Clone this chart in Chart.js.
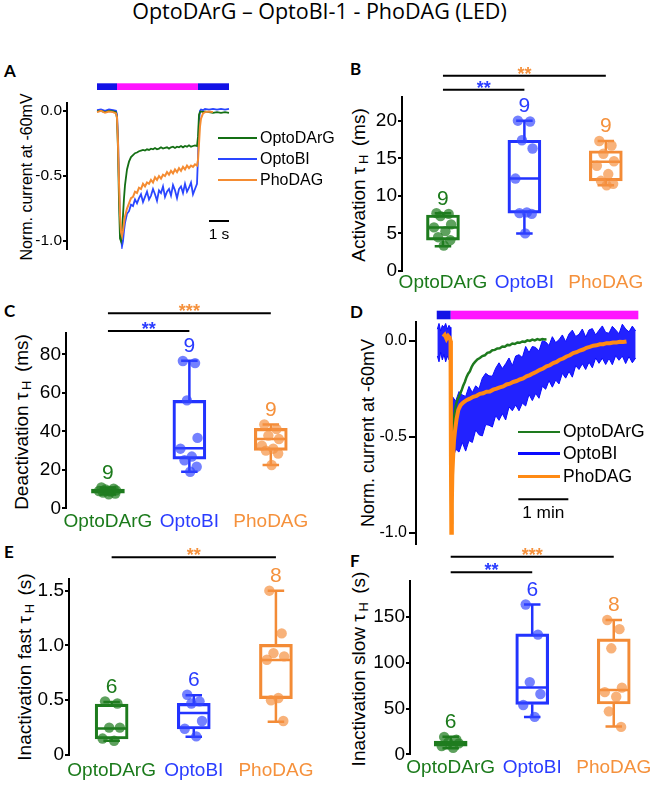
<!DOCTYPE html>
<html>
<head>
<meta charset="utf-8">
<title>OptoDArG – OptoBI-1 - PhoDAG (LED)</title>
<script src="https://cdn.jsdelivr.net/npm/chart.js@4.4.1/dist/chart.umd.min.js"></script>
<style>
  html, body { margin: 0; padding: 0; background: #fff; }
  #fig { position: relative; width: 655px; height: 786px; overflow: hidden; font-family: "Liberation Sans", Arial, sans-serif; color: #000; }
  #fig canvas { position: absolute; }
  .title { position: absolute; left: 0; width: 639px; top: 0; text-align: center; font: 21.5px "Open Sans", Lato, sans-serif; line-height: 21px; white-space: nowrap; }
  .letter { position: absolute; font: bold 17px Lato, "Open Sans", sans-serif; line-height: 17px; }
  .ytitle { position: absolute; white-space: nowrap; transform: translate(-50%, -50%) rotate(-90deg); line-height: 1; }
  .ytitle sub { font-size: 0.68em; vertical-align: -0.25em; margin: 0 0.25em 0 0.2em; }
  .leg { position: absolute; display: flex; align-items: center; white-space: nowrap; }
  .leg i { display: inline-block; margin-right: 3px; }
</style>
</head>
<body>
<div id="fig">
  <div class="title">OptoDArG – OptoBI-1 - PhoDAG (LED)</div>
  <div class="letter" style="left:4px;top:62px">A</div>
  <div class="letter" style="left:350px;top:60px">B</div>
  <div class="letter" style="left:4px;top:302px">C</div>
  <div class="letter" style="left:350px;top:303px">D</div>
  <div class="letter" style="left:4px;top:543px">E</div>
  <div class="letter" style="left:350px;top:552px">F</div>

  <div class="ytitle" style="left:27px;top:177px;font-size:16px">Norm. current at -60mV</div>
  <div class="ytitle" style="left:360px;top:185px;font-size:19px">Activation τ<sub>H</sub> (ms)</div>
  <div class="ytitle" style="left:23px;top:422px;font-size:19px">Deactivation τ<sub>H</sub> (ms)</div>
  <div class="ytitle" style="left:368px;top:433px;font-size:18px">Norm. current at -60mV</div>
  <div class="ytitle" style="left:26px;top:667px;font-size:19px">Inactivation fast τ<sub>H</sub> (s)</div>
  <div class="ytitle" style="left:360px;top:669px;font-size:19px">Inactivation slow τ<sub>H</sub> (s)</div>
</div>
<script>
// ---------- data ----------
const groups = ["OptoDArG", "OptoBI", "PhoDAG"];

// A: short light pulse, time in s
const tA = [0, 0.2, 0.4, 0.6, 0.8, 0.95, 1.0, 1.05, 1.1, 1.15, 1.2, 1.25, 1.3, 1.35,
  1.4, 1.5, 1.6, 1.7, 1.8, 1.9, 2.0, 2.1, 2.2, 2.3, 2.4, 2.5, 2.6, 2.7, 2.8, 2.9, 3.0, 3.1, 3.2, 3.3, 3.4, 3.5, 3.6, 3.7, 3.8, 3.9,
  4.0, 4.1, 4.2, 4.3, 4.4, 4.5, 4.6, 4.7, 4.8, 4.9, 5.0,
  5.05, 5.1, 5.15, 5.2, 5.3, 5.4, 5.6, 5.8, 6.0, 6.2, 6.4, 6.6];
const greenA = [-0.005, 0, -0.01, 0, -0.005, -0.01, -0.06, -0.3, -0.7, -0.98, -1.0, -0.93, -0.8, -0.67,
  -0.57, -0.45, -0.39, -0.355, -0.34, -0.325, -0.32, -0.31, -0.305, -0.3, -0.305, -0.295, -0.3, -0.29, -0.295, -0.285,
  -0.295, -0.29, -0.28, -0.29, -0.285, -0.28, -0.29, -0.28, -0.275, -0.285, -0.275, -0.28, -0.27, -0.28, -0.27,
  -0.275, -0.265, -0.275, -0.27, -0.265, -0.27,
  -0.2, -0.03, -0.01, -0.005, -0.01, -0.005, -0.01, -0.015, -0.01, -0.015, -0.01, -0.015];
const blueA = [0.005, 0.01, 0, 0.01, 0.005, 0, -0.03, -0.2, -0.55, -0.85, -0.98, -1.04, -1.0, -0.92,
  -0.86, -0.79, -0.77, -0.72, -0.73, -0.68, -0.71, -0.67, -0.64, -0.7, -0.66, -0.62, -0.68, -0.65, -0.6, -0.64,
  -0.69, -0.61, -0.63, -0.58, -0.66, -0.62, -0.6, -0.65, -0.57, -0.61, -0.67, -0.6, -0.58, -0.63, -0.56,
  -0.62, -0.59, -0.55, -0.64, -0.6, -0.56,
  -0.35, -0.08, 0, 0.01, 0.005, 0.015, 0.01, 0.015, 0.01, 0.015, 0.01, 0.015];
const orangeA = [-0.01, 0, -0.015, -0.005, -0.01, -0.02, -0.05, -0.25, -0.55, -0.8, -0.93, -0.96, -0.92, -0.86,
  -0.81, -0.75, -0.71, -0.67, -0.66, -0.62, -0.63, -0.59, -0.6, -0.56, -0.58, -0.55, -0.56, -0.53, -0.55, -0.51,
  -0.53, -0.5, -0.52, -0.49, -0.5, -0.47, -0.49, -0.46, -0.48, -0.45, -0.47, -0.44, -0.46, -0.43, -0.45,
  -0.42, -0.44, -0.42, -0.43, -0.41, -0.42,
  -0.38, -0.25, -0.12, -0.06, -0.02, -0.01, -0.005, -0.01, null, null, null, null];
const yTicksA = [0, -0.5, -1.0];
const lightA = [[0, 1, "blue"], [1, 5.05, "uv"], [5.05, 6.6, "blue"]];
const scaleBarA = [5.6, 1, -0.845];   // start (s), length (s), level

// D: long light exposure, time in s; OptoBI is drawn as its noise band
const tDb = [0, 2, 4, 6, 8, 10, 12, 14, 15.5, 16.2, 17,
  18, 22, 26, 30, 34, 38, 42, 46, 50, 54, 58, 62, 66, 70, 74, 78, 82, 86, 90, 94, 98, 102, 106, 110, 114, 118,
  122, 126, 130, 134, 138, 142, 146, 150, 154, 158, 162, 166, 170, 174, 178, 182, 186, 190, 194, 198, 202,
  206, 210, 214, 218, 222, 226, 230, 234, 238];
const blueUpD = [0.06, 0.09, 0.05, 0.08, 0.07, 0.09, 0.06, 0.08, 0.07, -0.05, -0.3,
  -0.29, -0.315, -0.265, -0.283, -0.29, -0.238, -0.27, -0.235, -0.25, -0.195, -0.17, -0.183, -0.185, -0.143,
  -0.115, -0.145, -0.12, -0.09, -0.13, -0.08, -0.073, -0.088, -0.03, -0.062, -0.03, -0.035, -0.053, 0.0,
  -0.006, -0.025, 0.021, -0.01, 0.005, 0.03, -0.005, 0.035, 0.055, 0.022, 0.033, 0.061, 0.019, 0.056,
  0.063, 0.03, 0.055, 0.077, 0.043, 0.039, 0.075, 0.056, 0.036, 0.086, 0.061, 0.046, 0.076, 0.051];
const blueLoD = [-0.08, -0.11, -0.06, -0.10, -0.07, -0.11, -0.08, -0.10, -0.09, -0.45, -0.8,
  -0.63, -0.565, -0.58, -0.53, -0.575, -0.52, -0.53, -0.465, -0.49, -0.496, -0.437, -0.44, -0.45, -0.39,
  -0.415, -0.38, -0.413, -0.345, -0.365, -0.335, -0.365, -0.325, -0.34, -0.28, -0.312, -0.275, -0.30, -0.237,
  -0.253, -0.208, -0.242, -0.205, -0.225, -0.17, -0.195, -0.16, -0.19, -0.13, -0.15, -0.12, -0.15, -0.112,
  -0.141, -0.09, -0.118, -0.091, -0.124, -0.092, -0.125, -0.078, -0.102, -0.08, -0.119, -0.082, -0.115, -0.09];
const tDg = [14, 15.5, 16.2, 16.8, 17.5, 18.5, 20, 22, 24, 27, 29, 31, 33, 35, 37, 39, 41, 43, 45, 48,
  51, 54, 57, 60, 63, 66, 69, 72, 75, 78, 81, 84, 87, 90, 93, 96, 99, 102, 105, 108, 111, 114, 117, 120, 123, 126, 129, 131];
const greenD = [0.0, 0.0, -0.5, -0.95, -0.7, -0.5, -0.4, -0.34, -0.31, -0.28, -0.26, -0.235, -0.215, -0.19, -0.172,
  -0.16, -0.138, -0.122, -0.112, -0.098, -0.09, -0.08, -0.076, -0.063, -0.06, -0.05, -0.048, -0.04, -0.039, -0.03,
  -0.031, -0.022, -0.024, -0.015, -0.017, -0.009, -0.011, -0.004, -0.006, 0.002, -0.001, 0.006, 0.002, 0.008,
  0.004, 0.009, 0.006, 0.007];
const tDo = [7, 9, 11, 13, 15, 15.8, 16.3, 16.8, 17.4, 18, 19, 20, 21.2, 23, 25.2, 28, 31, 35, 39, 43,
  47, 51, 55, 59, 63, 67, 71, 75, 79, 83, 87, 91, 95, 99, 103, 107, 111, 115, 119, 123, 127, 131, 135, 139,
  143, 147, 151, 155, 159, 163, 167, 171, 175, 179, 183, 187, 191, 195, 199, 203, 207, 211, 215, 219, 223, 227];
const orangeD = [0.02, 0.03, 0.01, 0.025, 0.015, 0.0, -0.6, -1.0, -0.85, -0.7,
  -0.6, -0.52, -0.47, -0.41, -0.36, -0.335, -0.322, -0.31, -0.302, -0.292,
  -0.287, -0.277, -0.274, -0.266, -0.265, -0.255, -0.25, -0.243, -0.238, -0.228,
  -0.224, -0.215, -0.21, -0.202, -0.197, -0.186, -0.179, -0.17, -0.162, -0.152,
  -0.145, -0.134, -0.128, -0.117, -0.111, -0.099, -0.093, -0.082, -0.076, -0.065,
  -0.06, -0.051, -0.046, -0.037, -0.032, -0.026, -0.024, -0.019, -0.018, -0.013,
  -0.013, -0.009, -0.009, -0.006, -0.007, -0.004];
const yTicksD = [0, -0.5, -1.0];
const lightD = [[-0.7, 16.1, "blue"], [16.1, 241.2, "uv"]];
const scaleBarD = [97.2, 60, -0.826];

// box plots: five-number summaries are [lower whisker, q1, median, q3, upper whisker]
const actPts = [[7.7, 7.6, 7.3, 6.2, 5.8, 5.3, 4.5, 4.1, 3.4],
  [20.0, 19.9, 17.4, 16.3, 12.3, 7.8, 7.7, 7.6, 5.0],
  [17.3, 16.7, 15.6, 14.6, 14.0, 12.9, 12.0, 11.6, 11.4]];
const actBox = [[3.3, 4.1, 5.8, 7.45, 7.7], [5.0, 7.7, 12.3, 17.4, 20.0], [11.4, 12.0, 14.55, 16.0, 17.3]];
const actN = [9, 9, 9];
const actTicks = [0, 5, 10, 15, 20];
const actSig = [[0, 2, "**"], [0, 1, "**"]];

const deactPts = [[10.8, 10.2, 9.8, 9.3, 9.0, 8.7, 8.2, 7.7, 7.3],
  [76.6, 75.5, 56.1, 36.6, 31.0, 26.9, 25.0, 21.6, 19.0],
  [43.6, 41.2, 37.8, 36.0, 32.6, 31.0, 30.0, 28.5, 22.5]];
const deactBox = [[7.2, 7.9, 9.0, 10.0, 10.8], [19.0, 25.6, 31.2, 56.1, 76.7], [22.5, 30.1, 36.0, 41.6, 43.6]];
const deactN = [9, 9, 9];
const deactTicks = [0, 20, 40, 60, 80];
const deactSig = [[0, 2, "***"], [0, 1, "**"]];

const fastPts = [[0.49, 0.47, 0.25, 0.25, 0.15, 0.13],
  [0.55, 0.49, 0.47, 0.31, 0.24, 0.17],
  [1.50, 1.11, 0.93, 0.90, 0.87, 0.52, 0.50, 0.31]];
const fastBox = [[0.13, 0.146, 0.243, 0.465, 0.484], [0.167, 0.237, 0.383, 0.472, 0.545], [0.304, 0.514, 0.867, 1.01, 1.5]];
const fastN = [6, 6, 8];
const fastTicks = [0, 0.5, 1.0, 1.5];
const fastSig = [[0, 2, "**"]];

const slowPts = [[19, 16, 13, 12, 9, 7],
  [164, 131, 79, 66, 54, 41],
  [147, 137, 116, 73, 68, 63, 47, 30]];
const slowBox = [[6.6, 8.8, 12.0, 14.6, 19.3], [40.9, 54.7, 73.0, 131.8, 163.9], [30.3, 55.1, 70.4, 126.3, 147.1]];
const slowN = [6, 6, 8];
const slowTicks = [0, 50, 100, 150];
const slowSig = [[0, 2, "***"], [0, 1, "**"]];

// horizontal spread of the dots inside each group (category units)
const jitter = [-0.08, 0.07, -0.03, 0.1, -0.11, 0.03, -0.06, 0.09, 0.01];

// ---------- style ----------
const FONT = '"Liberation Sans", Arial, sans-serif';
const textColors = ["#1b7a1b", "#2a3cff", "#f5913c"];
const boxColors = ["#1d7b1d", "#2233ff", "#f38b36"];
const dotColors = ["rgba(32,125,32,0.72)", "rgba(50,70,255,0.68)", "rgba(245,146,66,0.7)"];
const traceColorsA = ["#146f14", "#2a46ff", "#f58c32"];
const traceColorsD = ["#1e7a1e", "#0a0aff", "#ff8a14"];
const lightColors = { blue: "#1212e6", uv: "#ff14ff" };
const BOX_W = 33;

Chart.defaults.font.family = FONT;
Chart.defaults.color = "#000";
Chart.defaults.animation = false;
Chart.defaults.plugins.legend.display = false;
Chart.defaults.plugins.tooltip.enabled = false;

const fig = document.getElementById("fig");

function addCanvas(left, top, w, h) {
  const c = document.createElement("canvas");
  c.width = w; c.height = h;
  c.style.left = left + "px"; c.style.top = top + "px";
  c.style.width = w + "px"; c.style.height = h + "px";
  fig.appendChild(c);
  return c;
}

function addLegend(x, y0, dy, lineW, fontSize, colors, widths) {
  groups.forEach((g, i) => {
    const d = document.createElement("div");
    d.className = "leg";
    d.style.left = x + "px";
    d.style.top = (y0 + i * dy - 10) + "px";
    d.style.height = "20px";
    d.style.fontSize = fontSize + "px";
    d.innerHTML = `<i style="width:${lineW}px;height:${widths[i]}px;background:${colors[i]}"></i>${g}`;
    fig.appendChild(d);
  });
}

function yAxis(min, max, ticks, width, size, tickLen, pad, fmt) {
  return {
    type: "linear", min, max,
    border: { display: true, color: "#000", width: 2 },
    grid: { drawOnChartArea: false, drawTicks: true, tickLength: tickLen, color: "#000", lineWidth: 2 },
    ticks: { font: { size }, color: "#000", padding: pad, callback: fmt },
    afterBuildTicks: s => { s.ticks = ticks.map(v => ({ value: v })); },
    afterFit: s => { s.width = width; },
  };
}

function traceSet(t, v, color, w, order) {
  return { data: t.map((x, i) => ({ x, y: v[i] })), borderColor: color, borderWidth: w,
    pointRadius: 0, fill: false, tension: 0, order };
}

function traceExtras(o) {
  return {
    id: "traceExtras",
    afterDraw(chart) {
      const { ctx, chartArea, scales: { x, y } } = chart;
      ctx.save();
      o.light.forEach(([t0, t1, kind]) => {
        const x0 = x.getPixelForValue(t0), x1 = x.getPixelForValue(t1);
        ctx.fillStyle = lightColors[kind];
        ctx.fillRect(x0, chartArea.top + o.barTop, x1 - x0, o.barH);
      });
      const [s0, len, lvl] = o.bar;
      const sx0 = x.getPixelForValue(s0), sx1 = x.getPixelForValue(s0 + len), sy = y.getPixelForValue(lvl);
      ctx.strokeStyle = "#000"; ctx.lineWidth = 2;
      ctx.beginPath(); ctx.moveTo(sx0, sy); ctx.lineTo(sx1, sy); ctx.stroke();
      ctx.fillStyle = "#000"; ctx.textAlign = "center";
      ctx.font = `${o.font}px ${FONT}`;
      ctx.fillText(o.label, (sx0 + sx1) / 2, sy + o.gap);
      ctx.restore();
    },
  };
}

function boxExtras(p) {
  return {
    id: "boxExtras",
    beforeDatasetsDraw(chart) {
      const { ctx, scales: { x, y } } = chart;
      ctx.save();
      ctx.lineWidth = 2.5;
      p.box.forEach((b, i) => {
        const cx = x.getPixelForValue(i);
        const [lo, q1, med, q3, hi] = b.map(v => y.getPixelForValue(v));
        const cap = BOX_W / 4, half = BOX_W / 2 - 1;
        ctx.strokeStyle = boxColors[i];
        ctx.beginPath();
        ctx.moveTo(cx, lo); ctx.lineTo(cx, q1);
        ctx.moveTo(cx, q3); ctx.lineTo(cx, hi);
        ctx.moveTo(cx - cap, lo); ctx.lineTo(cx + cap, lo);
        ctx.moveTo(cx - cap, hi); ctx.lineTo(cx + cap, hi);
        ctx.moveTo(cx - half, med); ctx.lineTo(cx + half, med);
        ctx.stroke();
      });
      ctx.restore();
    },
    afterDraw(chart) {
      const { ctx, chartArea, scales: { x, y } } = chart;
      ctx.save();
      ctx.textAlign = "center";
      ctx.font = `21px ${FONT}`;
      p.n.forEach((n, i) => {
        const top = Math.max(p.box[i][4], ...p.pts[i]);
        ctx.fillStyle = textColors[i];
        ctx.fillText(String(n), x.getPixelForValue(i), y.getPixelForValue(top) - 8.5);
      });
      ctx.font = `bold 18px ${FONT}`;
      p.sig.forEach(([a, b, stars], k) => {
        const yy = chartArea.top + p.sigY[k];
        const x0 = x.getPixelForValue(a), x1 = x.getPixelForValue(b);
        ctx.strokeStyle = "#000"; ctx.lineWidth = 2;
        ctx.beginPath(); ctx.moveTo(x0, yy); ctx.lineTo(x1, yy); ctx.stroke();
        ctx.fillStyle = textColors[b];
        ctx.fillText(stars, (x0 + x1) / 2, yy + 4);
      });
      ctx.restore();
    },
  };
}

function boxChart(canvas, p) {
  const datasets = p.pts.map((g, i) => ({
    type: "scatter",
    data: g.map((v, j) => ({ x: i + jitter[j], y: v })),
    pointRadius: 5.2, pointBackgroundColor: dotColors[i], pointBorderWidth: 0, order: 0,
  }));
  datasets.push({
    type: "bar",
    data: p.box.map((b, i) => ({ x: i, y: [b[1], b[3]] })),
    borderColor: boxColors, backgroundColor: "rgba(0,0,0,0)", borderWidth: 2.5,
    borderSkipped: false, barThickness: BOX_W, grouped: false, order: 1,
  });
  return new Chart(canvas, {
    type: "bar",
    data: { datasets },
    options: {
      responsive: false,
      layout: { padding: { left: 0, top: p.top, right: p.right, bottom: 0 } },
      scales: {
        x: {
          type: "linear", min: p.xRange[0], max: p.xRange[1], offset: false,
          border: { display: false },
          grid: { display: false, drawTicks: false },
          ticks: { font: { size: 19 }, color: c => textColors[c.index], padding: p.labelPad,
            autoSkip: false, maxRotation: 0, callback: v => groups[Math.round(v)] },
          afterBuildTicks: s => { s.ticks = groups.map((g, i) => ({ value: i })); },
          afterFit: s => { s.height = p.xH; },
        },
        y: yAxis(0, p.yMax, p.ticks, p.yW, 19, 4, 1, p.fmt || (v => String(v))),
      },
    },
    plugins: [boxExtras(p)],
  });
}

// ---------- A ----------
new Chart(addCanvas(0, 60, 330, 210), {
  type: "line",
  data: { datasets: [
    traceSet(tA, greenA, traceColorsA[0], 1.8, 1),
    traceSet(tA, blueA, traceColorsA[1], 1.8, 2),
    traceSet(tA, orangeA, traceColorsA[2], 2, 0),
  ] },
  options: {
    responsive: false,
    layout: { padding: { left: 0, top: 43, right: 0, bottom: 21 } },
    scales: {
      x: { type: "linear", display: false, min: -1.5, max: 11.65 },
      y: yAxis(-1.06, 0.06, yTicksA, 67, 15.5, 4, 1, v => v.toFixed(1)),
    },
  },
  plugins: [traceExtras({ light: lightA, barTop: -19.7, barH: 6.7, bar: scaleBarA, label: "1 s", font: 15.5, gap: 17.6 })],
});
addLegend(218, 138, 21, 39, 16, traceColorsA, [2, 2, 2]);

// ---------- B ----------
boxChart(addCanvas(330, 50, 325, 250), {
  pts: actPts, box: actBox, n: actN, ticks: actTicks, sig: actSig, sigY: [-21.7, -7.7],
  yMax: 23.1, xRange: [-0.503, 2.54], top: 47.4, right: 5, yW: 72, xH: 29, labelPad: 0,
});

// ---------- C ----------
boxChart(addCanvas(0, 290, 330, 250), {
  pts: deactPts, box: deactBox, n: deactN, ticks: deactTicks, sig: deactSig, sigY: [-20, -2.3],
  yMax: 91, xRange: [-0.515, 2.663], top: 43.3, right: 5, yW: 66, xH: 31.7, labelPad: 2,
});

// ---------- D ----------
new Chart(addCanvas(330, 290, 325, 270), {
  type: "line",
  data: { datasets: [
    traceSet(tDb, blueLoD, traceColorsD[1], 1, 3),
    { ...traceSet(tDb, blueUpD, traceColorsD[1], 1, 2), fill: "-1", backgroundColor: "rgba(10,10,255,0.9)" },
    traceSet(tDg, greenD, traceColorsD[0], 2.5, 1),
    traceSet(tDo, orangeD, traceColorsD[2], 4, 0),
  ] },
  options: {
    responsive: false,
    layout: { padding: { left: 0, top: 31.7, right: 5, bottom: 16 } },
    scales: {
      x: { type: "linear", display: false, min: -25.6, max: 255.2 },
      y: yAxis(-1.059, 0.099, yTicksD, 86, 16, 7, 2, v => v.toFixed(1)),
    },
  },
  plugins: [traceExtras({ light: lightD, barTop: -11, barH: 8.6, bar: scaleBarD, label: "1 min", font: 17.3, gap: 19 })],
});
addLegend(518, 431.7, 22.2, 42, 17.5, traceColorsD, [2, 3, 3]);

// ---------- E ----------
boxChart(addCanvas(0, 540, 330, 246), {
  pts: fastPts, box: fastBox, n: fastN, ticks: fastTicks, sig: fastSig, sigY: [-22],
  yMax: 1.604, xRange: [-0.519, 2.595], top: 39.3, right: 5, yW: 69, xH: 31, labelPad: 4,
  fmt: v => (v === 0 ? "0" : v.toFixed(1)),
});

// ---------- F ----------
boxChart(addCanvas(330, 540, 325, 246), {
  pts: slowPts, box: slowBox, n: slowN, ticks: slowTicks, sig: slowSig, sigY: [-24, -8.4],
  yMax: 190, xRange: [-0.499, 2.442], top: 40.7, right: 5, yW: 80, xH: 31.7, labelPad: 2,
});
</script>
</body>
</html>
